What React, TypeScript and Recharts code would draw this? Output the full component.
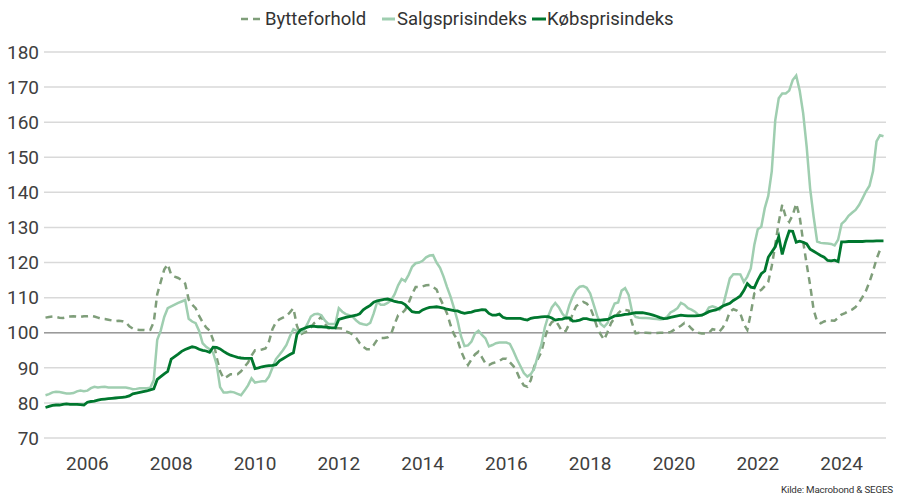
import { LineChart, Line, XAxis, YAxis, CartesianGrid, ReferenceLine } from 'recharts'

// monthly, jan 2005 - jan 2025
const bytteforhold = [
  104.3, 104.5, 104.6, 104.5, 104.3, 104.2, 104.4, 104.6, 104.7, 104.6, 104.5, 104.7,
  104.7, 104.8, 104.6, 104.3, 104.0, 103.9, 103.7, 103.5, 103.3, 103.4, 103.3, 103.0,
  101.8, 101.2, 100.9, 100.8, 100.8, 100.7, 100.8, 103.0, 111.0, 114.5, 118.0, 119.5,
  116.5, 116.0, 115.6, 115.0, 114.0, 109.5, 108.0, 107.0, 104.8, 103.0, 101.5, 100.6,
  98.0, 93.0, 89.0, 87.0, 87.5, 88.2, 88.2, 88.2, 89.0, 90.3, 91.5, 93.5,
  95.0, 95.0, 95.2, 95.5, 97.5, 101.0, 103.0, 103.8, 104.3, 104.8, 105.8, 107.0,
  102.0, 99.5, 100.0, 100.4, 101.5, 102.8, 103.5, 104.6, 102.5, 101.3, 101.3, 101.3,
  101.3, 101.2, 100.4, 100.0, 99.5, 98.5, 97.0, 96.0, 95.3, 95.3, 96.5, 98.0,
  98.5, 98.5, 98.7, 99.7, 102.5, 105.0, 105.5, 106.5, 108.5, 111.0, 113.0, 113.0,
  113.2, 113.5, 113.6, 113.0, 112.3, 109.8, 107.7, 105.5, 102.2, 99.5, 98.0, 94.8,
  92.5, 90.8, 92.4, 93.8, 94.6, 93.0, 91.3, 90.8, 91.3, 91.6, 92.0, 92.6,
  92.6, 91.6, 90.5, 88.8, 86.5, 85.0, 84.6, 86.5, 90.5, 92.5, 94.5, 98.5,
  101.5, 103.0, 103.6, 102.0, 100.3, 100.5, 102.5, 105.5, 107.6, 108.3, 108.8, 108.3,
  107.2, 104.6, 101.5, 99.5, 98.0, 100.3, 102.8, 104.2, 105.5, 106.5, 106.5, 106.3,
  102.7, 99.8, 100.0, 100.0, 100.0, 99.9, 99.9, 99.9, 100.0, 100.0, 100.0, 100.2,
  100.8, 101.4, 102.0, 102.8, 102.3, 101.2, 100.3, 100.0, 99.8, 99.8, 100.0, 101.0,
  100.8, 100.3, 101.5, 103.2, 106.0, 106.7, 106.3, 105.5, 102.5, 100.8, 105.5, 111.2,
  111.8, 112.2, 113.3, 114.5, 119.0, 125.0, 131.5, 136.5, 133.0, 131.6, 133.5, 136.8,
  133.0, 126.0, 119.5, 113.5, 106.5, 103.2, 102.7, 103.2, 103.6, 103.5, 103.4, 104.2,
  105.2, 105.6, 106.2, 106.6, 107.3, 108.6, 110.2, 112.0, 114.5, 117.5, 121.0, 123.6,
  124.0,
]

const salgsprisindeks = [
  82.2, 82.5, 83.0, 83.2, 83.1, 82.9, 82.7, 82.7, 82.8, 83.3, 83.5, 83.3,
  83.5, 84.2, 84.6, 84.4, 84.5, 84.6, 84.4, 84.4, 84.4, 84.4, 84.4, 84.4,
  84.2, 83.9, 84.0, 84.2, 84.2, 84.2, 84.3, 86.5, 98.0, 100.6, 104.5, 107.0,
  107.5, 108.0, 108.5, 108.9, 109.3, 104.0, 103.2, 102.7, 100.5, 97.0, 96.0, 95.3,
  94.3, 91.0, 84.5, 83.0, 83.0, 83.2, 83.0, 82.6, 82.2, 83.5, 85.0, 87.0,
  85.8, 86.0, 86.2, 86.2, 87.5, 90.0, 92.5, 93.7, 95.0, 96.5, 99.0, 101.0,
  100.5, 100.0, 100.7, 102.5, 104.6, 105.3, 105.4, 105.0, 103.5, 102.5, 102.5, 102.5,
  107.0, 106.0, 105.3, 105.0, 104.5, 103.5, 102.7, 102.4, 102.2, 102.8, 105.5, 108.8,
  108.0, 108.0, 108.5, 109.3, 111.0, 113.5, 115.3, 114.7, 116.5, 118.8, 119.8, 120.0,
  120.5, 121.5, 122.0, 122.1, 120.0, 118.5, 116.0, 113.0, 110.3, 107.0, 103.5, 99.0,
  96.2, 96.4, 97.5, 99.8, 100.6, 99.4, 98.4, 96.1, 96.5, 97.0, 97.2, 97.2,
  97.2, 96.8, 94.8, 92.5, 90.5, 88.5, 87.5, 88.2, 89.8, 93.5, 96.5, 101.5,
  104.8, 107.2, 108.5, 107.3, 105.5, 104.3, 107.8, 110.3, 112.2, 113.1, 113.3, 112.8,
  111.2, 108.0, 104.8, 102.5, 101.7, 102.8, 106.0, 108.3, 108.6, 112.0, 112.7, 110.8,
  106.0, 104.5, 104.3, 104.2, 104.2, 104.1, 104.0, 103.9, 103.8, 103.9, 104.5, 105.8,
  106.3, 107.0, 108.5, 108.0, 107.0, 106.6, 106.0, 105.1, 105.0, 105.5, 107.2, 107.5,
  107.2, 106.5, 107.6, 111.5, 115.5, 116.7, 116.7, 116.6, 114.5, 116.0, 118.3, 125.0,
  129.5, 130.2, 135.5, 139.0, 146.0, 160.5, 166.8, 168.2, 168.2, 169.0, 172.0, 173.3,
  169.0, 162.5, 153.0, 141.0, 133.0, 126.0, 125.6, 125.5, 125.4, 125.3, 124.9, 126.5,
  131.0, 131.9, 133.3, 134.2, 135.0, 136.4, 138.3, 140.3, 141.9, 146.0, 154.5, 156.3,
  156.0,
]

const koebsprisindeks = [
  78.7, 79.0, 79.3, 79.4, 79.4, 79.6, 79.7, 79.6, 79.6, 79.6, 79.5, 79.4,
  80.2, 80.4, 80.5, 80.8, 81.0, 81.1, 81.2, 81.3, 81.4, 81.5, 81.6, 81.7,
  82.0, 82.6, 82.8, 83.0, 83.2, 83.4, 83.7, 84.0, 86.7, 87.5, 88.3, 89.0,
  92.5, 93.2, 93.9, 94.7, 95.2, 95.6, 96.0, 95.8, 95.3, 95.0, 94.8, 94.4,
  95.9, 95.8, 95.4, 94.7, 94.1, 93.6, 93.3, 93.0, 92.8, 92.7, 92.7, 92.7,
  89.8, 90.0, 90.3, 90.5, 90.6, 90.7, 90.9, 92.0, 92.6, 93.2, 93.8, 94.3,
  99.5, 100.8, 101.2, 101.6, 101.9, 101.8, 101.7, 101.7, 101.6, 101.5, 101.4, 101.4,
  103.8, 104.1, 104.4, 104.6, 104.8, 105.0, 105.4, 106.5, 107.2, 107.8, 108.7, 109.1,
  109.3, 109.5, 109.6, 109.3, 108.9, 108.7, 108.6, 108.0, 107.0, 106.0, 105.8, 105.8,
  106.5, 106.9, 107.2, 107.3, 107.4, 107.2, 107.0, 106.7, 106.5, 106.3, 106.2, 105.8,
  105.5, 105.7, 105.9, 106.2, 106.4, 106.6, 106.5, 105.5, 105.0, 105.0, 105.3, 104.4,
  104.1, 104.1, 104.1, 104.1, 104.1, 103.8, 103.6, 104.1, 104.3, 104.4, 104.5, 104.6,
  104.6, 104.2, 103.6, 103.8, 103.9, 104.2, 104.2, 103.3, 103.4, 103.6, 104.0, 104.0,
  103.7, 103.6, 103.6, 103.6, 103.7, 103.8, 104.3, 104.8, 104.9, 105.0, 105.2, 105.3,
  105.5, 105.7, 105.7, 105.7, 105.5, 105.3, 105.0, 104.7, 104.3, 104.0, 104.1, 104.4,
  104.6, 104.8, 105.0, 104.9, 104.8, 104.8, 104.8, 104.9, 105.0, 105.5, 106.0, 106.3,
  106.5, 107.0, 107.6, 108.0, 108.4, 109.2, 109.8, 110.5, 112.0, 114.0, 113.0, 112.8,
  115.0, 116.8, 117.6, 121.5, 123.0, 124.5, 127.4, 122.3, 126.0, 129.0, 128.9, 125.8,
  126.1, 125.8, 125.3, 123.8, 123.2, 122.6, 122.0, 121.5, 120.6, 120.5, 120.7, 120.3,
  125.9, 125.9, 126.0, 126.0, 126.0, 126.0, 126.0, 126.1, 126.1, 126.1, 126.2, 126.2,
  126.2,
]

const yTicks = [70, 80, 90, 100, 110, 120, 130, 140, 150, 160, 170, 180]
const xTicks = [2006, 2008, 2010, 2012, 2014, 2016, 2018, 2020, 2022, 2024]

const C_BYTTE = '#7f9e7a'
const C_SALG = '#9fceb0'
const C_KOEB = '#00772e'
const FONT = 'Roboto, sans-serif'

const data = bytteforhold.map((v, i) => ({
  t: 2005 + i / 12,
  bytte: v,
  salg: salgsprisindeks[i],
  koeb: koebsprisindeks[i],
}))

const legendText = { position: 'absolute' as const, top: 9, fontSize: 18.5, lineHeight: '20px', color: '#333' }

export default function App() {
  return (
    <div style={{ position: 'fixed', left: 0, top: 0, width: 899, height: 495, overflow: 'hidden', background: '#fff', fontFamily: FONT }}>
      <svg width={20} height={4} style={{ position: 'absolute', left: 241, top: 17 }}>
        <line x1={0} y1={2} x2={20} y2={2} stroke={C_BYTTE} strokeWidth={2.5} strokeDasharray="7 5" />
      </svg>
      <span style={{ ...legendText, left: 265 }}>Bytteforhold</span>
      <svg width={13} height={4} style={{ position: 'absolute', left: 382, top: 17 }}>
        <line x1={0} y1={2} x2={13} y2={2} stroke={C_SALG} strokeWidth={3} />
      </svg>
      <span style={{ ...legendText, left: 397 }}>Salgsprisindeks</span>
      <svg width={14} height={4} style={{ position: 'absolute', left: 532, top: 17 }}>
        <line x1={0} y1={2} x2={14} y2={2} stroke={C_KOEB} strokeWidth={3} />
      </svg>
      <span style={{ ...legendText, left: 547 }}>Købsprisindeks</span>

      <LineChart width={899} height={495} data={data} margin={{ top: 52, right: 13, bottom: 27, left: 0 }}>
        <CartesianGrid vertical={false} stroke="#d9d9d9" strokeWidth={1.5} />
        <XAxis
          dataKey="t"
          type="number"
          domain={[2004.964, 2025.06]}
          ticks={xTicks}
          height={30}
          axisLine={false}
          tickLine={false}
          tickSize={0}
          tickMargin={19}
          tick={{ fontSize: 19, fill: '#404040', fontFamily: FONT }}
        />
        <YAxis
          domain={[70, 180]}
          ticks={yTicks}
          width={44}
          axisLine={false}
          tickLine={false}
          tickSize={0}
          tickMargin={5}
          tick={{ fontSize: 19, fill: '#404040', fontFamily: FONT }}
        />
        <ReferenceLine y={100} stroke="#9a9a9a" strokeWidth={1.5} />
        <Line type="linear" dataKey="bytte" stroke={C_BYTTE} strokeWidth={2.5} strokeDasharray="7 5" dot={false} isAnimationActive={false} />
        <Line type="linear" dataKey="salg" stroke={C_SALG} strokeWidth={2.5} dot={false} isAnimationActive={false} />
        <Line type="linear" dataKey="koeb" stroke={C_KOEB} strokeWidth={2.8} dot={false} isAnimationActive={false} />
      </LineChart>

      <div style={{ position: 'absolute', left: 781, top: 484, fontSize: 9.8, letterSpacing: -0.2, color: '#333', whiteSpace: 'nowrap' }}>
        Kilde: Macrobond &amp; SEGES
      </div>
    </div>
  )
}
